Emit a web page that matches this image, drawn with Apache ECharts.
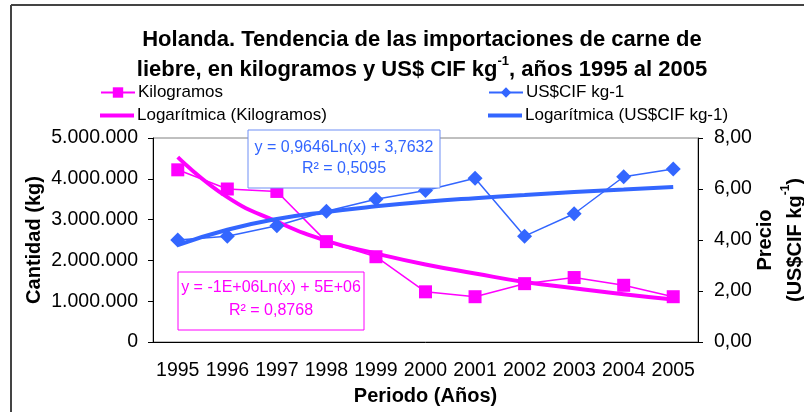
<!DOCTYPE html>
<html>
<head>
<meta charset="utf-8">
<title>Holanda - carne de liebre</title>
<script src="https://cdn.jsdelivr.net/npm/echarts@6/dist/echarts.min.js"></script>
<style>
html, body { margin: 0; padding: 0; background: #fff; }
#echarts_holanda { width: 804px; height: 412px; }
</style>
</head>
<body>
<div id="echarts_holanda"></div>
<script>
// datos
var years = ['1995', '1996', '1997', '1998', '1999', '2000', '2001', '2002', '2003', '2004', '2005'];
var kilogramos = [4220000, 3750000, 3690000, 2460000, 2090000, 1230000, 1110000, 1430000, 1580000, 1390000, 1110000];
var precio = [4.00, 4.15, 4.56, 5.13, 5.60, 5.94, 6.42, 4.15, 5.03, 6.48, 6.78];
// lineas de tendencia logaritmica (tal como se ven)
var tendKilogramos = [4530000, 3550000, 2950000, 2480000, 2170000, 1900000, 1680000, 1470000, 1320000, 1170000, 1040000];
var tendPrecio = [3.80, 4.40, 4.82, 5.10, 5.32, 5.50, 5.64, 5.76, 5.88, 5.98, 6.08];
var kgTicks = [0, 1000000, 2000000, 3000000, 4000000, 5000000];
var precioTicks = [0, 2, 4, 6, 8];

var FONT = 'Liberation Sans, Arial, sans-serif';
var ROSA = '#FF00FF';
var AZUL = '#3366FF';

var myChart_holanda = echarts.init(document.getElementById('echarts_holanda'));

function miles(v) {
    return String(v).replace(/\B(?=(\d{3})+(?!\d))/g, '.');
}

function leyenda(nombre, left, top, tendencia) {
    return {
        data: [tendencia ? { name: nombre, icon: 'rect' } : nombre],
        left: left,
        top: top,
        itemWidth: 34,
        itemHeight: tendencia ? 4 : 13,
        itemGap: 4,
        padding: 0,
        textStyle: { fontFamily: FONT, fontSize: 17, color: '#000', padding: [0, 0, 0, -2] }
    };
}

var option_holanda = {
    animation: false,
    textStyle: { fontFamily: FONT },
    title: {
        text: 'Holanda. Tendencia de las importaciones de carne de\nliebre, en kilogramos y US$ CIF kg{sup|-1}, años 1995 al 2005',
        left: 417,
        top: 20,
        textAlign: 'center',
        textStyle: {
            fontFamily: FONT,
            fontSize: 22,
            fontWeight: 'bold',
            color: '#000',
            lineHeight: 30,
            rich: {
                sup: { fontFamily: FONT, fontSize: 13, fontWeight: 'bold', color: '#000', verticalAlign: 'top', lineHeight: 14 }
            }
        }
    },
    legend: [
        leyenda('Kilogramos', 100, 84, false),
        leyenda('US$CIF kg-1', 488, 84, false),
        leyenda('Logarítmica (Kilogramos)', 100, 107, true),
        leyenda('Logarítmica (US$CIF kg-1)', 488, 107, true)
    ],
    grid: {
        left: 153,
        right: 106,
        top: 138,
        bottom: 70,
        outerBoundsMode: 'none',
        show: true,
        borderColor: '#808080',
        borderWidth: 1
    },
    xAxis: {
        type: 'category',
        data: years,
        boundaryGap: true,
        name: 'Periodo (Años)',
        nameLocation: 'middle',
        nameGap: 44,
        nameMoveOverlap: false,
        nameTextStyle: { fontFamily: FONT, fontSize: 20, fontWeight: 'bold', color: '#000' },
        axisLine: { lineStyle: { color: '#000', width: 1 } },
        axisTick: { interval: 0, length: 5, lineStyle: { color: '#000' } },
        axisLabel: { interval: 0, margin: 19, fontFamily: FONT, fontSize: 19.5, color: '#000' }
    },
    yAxis: [
        {
            type: 'value',
            min: kgTicks[0],
            max: kgTicks[kgTicks.length - 1],
            interval: kgTicks[1] - kgTicks[0],
            name: 'Cantidad (kg)',
            nameLocation: 'middle',
            nameGap: 109,
            nameRotate: 90,
            nameMoveOverlap: false,
            nameTextStyle: { fontFamily: FONT, fontSize: 20, fontWeight: 'bold', color: '#000' },
            axisLine: { show: true, lineStyle: { color: '#000', width: 1 } },
            axisTick: { show: true, length: 5, lineStyle: { color: '#000' } },
            axisLabel: { margin: 15, fontFamily: FONT, fontSize: 19.5, color: '#000', formatter: miles },
            splitLine: { show: false }
        },
        {
            type: 'value',
            position: 'right',
            min: precioTicks[0],
            max: precioTicks[precioTicks.length - 1],
            interval: precioTicks[1] - precioTicks[0],
            name: 'Precio\n(US$CIF kg{sup|-1})',
            nameLocation: 'middle',
            nameGap: 52,
            nameRotate: 90,
            nameMoveOverlap: false,
            nameTextStyle: {
                fontFamily: FONT, fontSize: 20, fontWeight: 'bold', color: '#000', lineHeight: 30, align: 'center',
                rich: {
                    sup: { fontFamily: FONT, fontSize: 12, fontWeight: 'bold', color: '#000', verticalAlign: 'top', lineHeight: 14 }
                }
            },
            axisLine: { show: true, lineStyle: { color: '#000', width: 1 } },
            axisTick: { show: true, length: 5, lineStyle: { color: '#000' } },
            axisLabel: {
                margin: 16, fontFamily: FONT, fontSize: 19.5, color: '#000',
                formatter: function (v) { return v.toFixed(2).replace('.', ','); }
            },
            splitLine: { show: false }
        }
    ],
    series: [
        {
            name: 'Kilogramos',
            type: 'line',
            yAxisIndex: 0,
            data: kilogramos,
            symbol: 'rect',
            symbolSize: 13,
            itemStyle: { color: ROSA },
            lineStyle: { color: ROSA, width: 1.5 }
        },
        {
            name: 'US$CIF kg-1',
            type: 'line',
            yAxisIndex: 1,
            data: precio,
            symbol: 'diamond',
            symbolSize: 15,
            itemStyle: { color: AZUL },
            lineStyle: { color: AZUL, width: 1.5 }
        },
        {
            name: 'Logarítmica (Kilogramos)',
            type: 'line',
            yAxisIndex: 0,
            data: tendKilogramos,
            smooth: true,
            symbol: 'none',
            itemStyle: { color: ROSA },
            lineStyle: { color: ROSA, width: 4 }
        },
        {
            name: 'Logarítmica (US$CIF kg-1)',
            type: 'line',
            yAxisIndex: 1,
            data: tendPrecio,
            smooth: true,
            symbol: 'none',
            itemStyle: { color: AZUL },
            lineStyle: { color: AZUL, width: 4 }
        }
    ],
    graphic: [
        // marco exterior
        { type: 'line', shape: { x1: 11, y1: 5, x2: 804, y2: 5 }, style: { stroke: '#444', lineWidth: 2 } },
        { type: 'line', shape: { x1: 11, y1: 5, x2: 11, y2: 412 }, style: { stroke: '#444', lineWidth: 2 } },
        // ecuacion US$
        { type: 'rect', shape: { x: 248, y: 130, width: 192, height: 58 }, style: { fill: '#fff', stroke: '#6f8ff5', lineWidth: 1 }, z: 10 },
        { type: 'text', x: 344, y: 148, z: 11, style: { text: 'y = 0,9646Ln(x) + 3,7632', fill: AZUL, font: '16px ' + FONT, textAlign: 'center', textVerticalAlign: 'middle' } },
        { type: 'text', x: 344, y: 169, z: 11, style: { text: 'R² = 0,5095', fill: AZUL, font: '16px ' + FONT, textAlign: 'center', textVerticalAlign: 'middle' } },
        // ecuacion kilogramos
        { type: 'rect', shape: { x: 178, y: 272, width: 186, height: 58 }, style: { fill: '#fff', stroke: ROSA, lineWidth: 1 }, z: 10 },
        { type: 'text', x: 271, y: 288, z: 11, style: { text: 'y = -1E+06Ln(x) + 5E+06', fill: ROSA, font: '16px ' + FONT, textAlign: 'center', textVerticalAlign: 'middle' } },
        { type: 'text', x: 271, y: 311, z: 11, style: { text: 'R² = 0,8768', fill: ROSA, font: '16px ' + FONT, textAlign: 'center', textVerticalAlign: 'middle' } }
    ]
};

myChart_holanda.setOption(option_holanda);
</script>
</body>
</html>
